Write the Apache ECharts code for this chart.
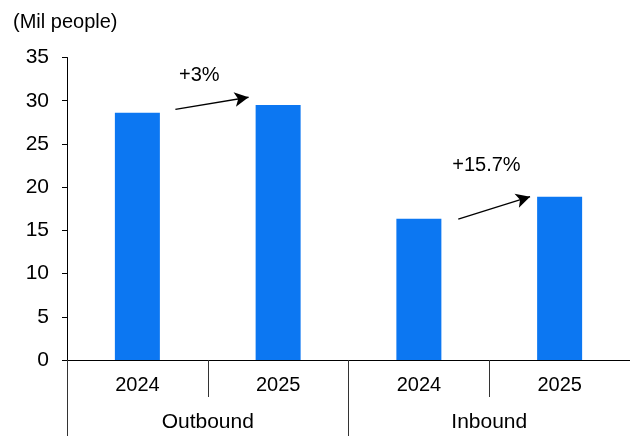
<!DOCTYPE html>
<html>
<head>
<meta charset="utf-8">
<script src="https://cdn.jsdelivr.net/npm/echarts@6/dist/echarts.min.js"></script>
<style>
  html, body { margin: 0; padding: 0; background: #fff; }
  #chart-container { width: 630px; height: 436px; }
</style>
</head>
<body>
<div id="chart-container"></div>
<script>
  // values
  const years = ['2024', '2025', '2024', '2025'];
  const groups = ['Outbound', 'Inbound'];
  const people = [28.6, 29.5, 16.35, 18.9];
  const yTicks = { min: 0, max: 35, interval: 5 };

  // growth arrows, in (category-slot, value) units: slot 0..4 across the x axis
  const arrowFrom = [[0.77, 29.0], [2.78, 16.3]];
  const arrowTo = [[1.29, 30.4], [3.29, 18.9]];
  const growthLabels = ['+3%', '+15.7%'];
  const growthLabelPos = [[0.94, 32.9], [2.98, 22.45]];

  const fontFamily = 'Liberation Sans, Arial, sans-serif';
  const barColor = '#0c77f2';

  const chart = echarts.init(document.getElementById('chart-container'));

  const option = {
    animation: false,
    textStyle: { fontFamily: fontFamily, color: '#000' },
    title: {
      text: '(Mil people)',
      left: 8,
      top: 7,
      textStyle: { fontSize: 20, fontWeight: 'normal', color: '#000', fontFamily: fontFamily }
    },
    grid: { left: 67, right: 0, top: 57.5, bottom: 76, containLabel: false },
    xAxis: [
      {
        type: 'category',
        data: years,
        position: 'bottom',
        axisLine: { show: true, lineStyle: { color: '#000', width: 1 } },
        axisTick: { show: true, length: 37, lineStyle: { color: '#333', width: 1 } },
        axisLabel: { fontSize: 20, color: '#000', margin: 15, fontFamily: fontFamily }
      },
      {
        type: 'category',
        data: groups,
        position: 'bottom',
        axisLine: { show: false },
        axisTick: { show: true, length: 76, lineStyle: { color: '#333', width: 1 } },
        axisLabel: { fontSize: 21, color: '#000', margin: 52, fontFamily: fontFamily }
      },
      {
        type: 'value',
        min: 0,
        max: 4,
        show: false
      }
    ],
    yAxis: {
      type: 'value',
      min: yTicks.min,
      max: yTicks.max,
      interval: yTicks.interval,
      axisLine: { show: true, lineStyle: { color: '#000', width: 1 } },
      axisTick: { show: true, length: 5, lineStyle: { color: '#000' } },
      splitLine: { show: false },
      axisLabel: { fontSize: 21, color: '#000', margin: 18, fontFamily: fontFamily }
    },
    series: [
      {
        type: 'bar',
        xAxisIndex: 0,
        data: people,
        barWidth: 45,
        itemStyle: { color: barColor }
      },
      {
        type: 'scatter',
        xAxisIndex: 2,
        symbolSize: 0,
        silent: true,
        itemStyle: { opacity: 1 },
        data: growthLabelPos.map((p, i) => ({ value: p, name: growthLabels[i] })),
        label: {
          show: true,
          position: 'inside',
          formatter: (p) => p.name,
          fontSize: 20,
          color: '#000',
          opacity: 1,
          textBorderWidth: 0,
          textBorderColor: 'transparent',
          fontFamily: fontFamily
        },
        markLine: {
          silent: true,
          symbol: ['none', 'arrow'],
          symbolSize: [11, 14],
          label: { show: false },
          lineStyle: { color: '#000', width: 1.3, type: 'solid', opacity: 1 },
          data: arrowFrom.map((a, i) => [{ coord: a }, { coord: arrowTo[i] }])
        }
      }
    ]
  };

  chart.setOption(option);
</script>
</body>
</html>
